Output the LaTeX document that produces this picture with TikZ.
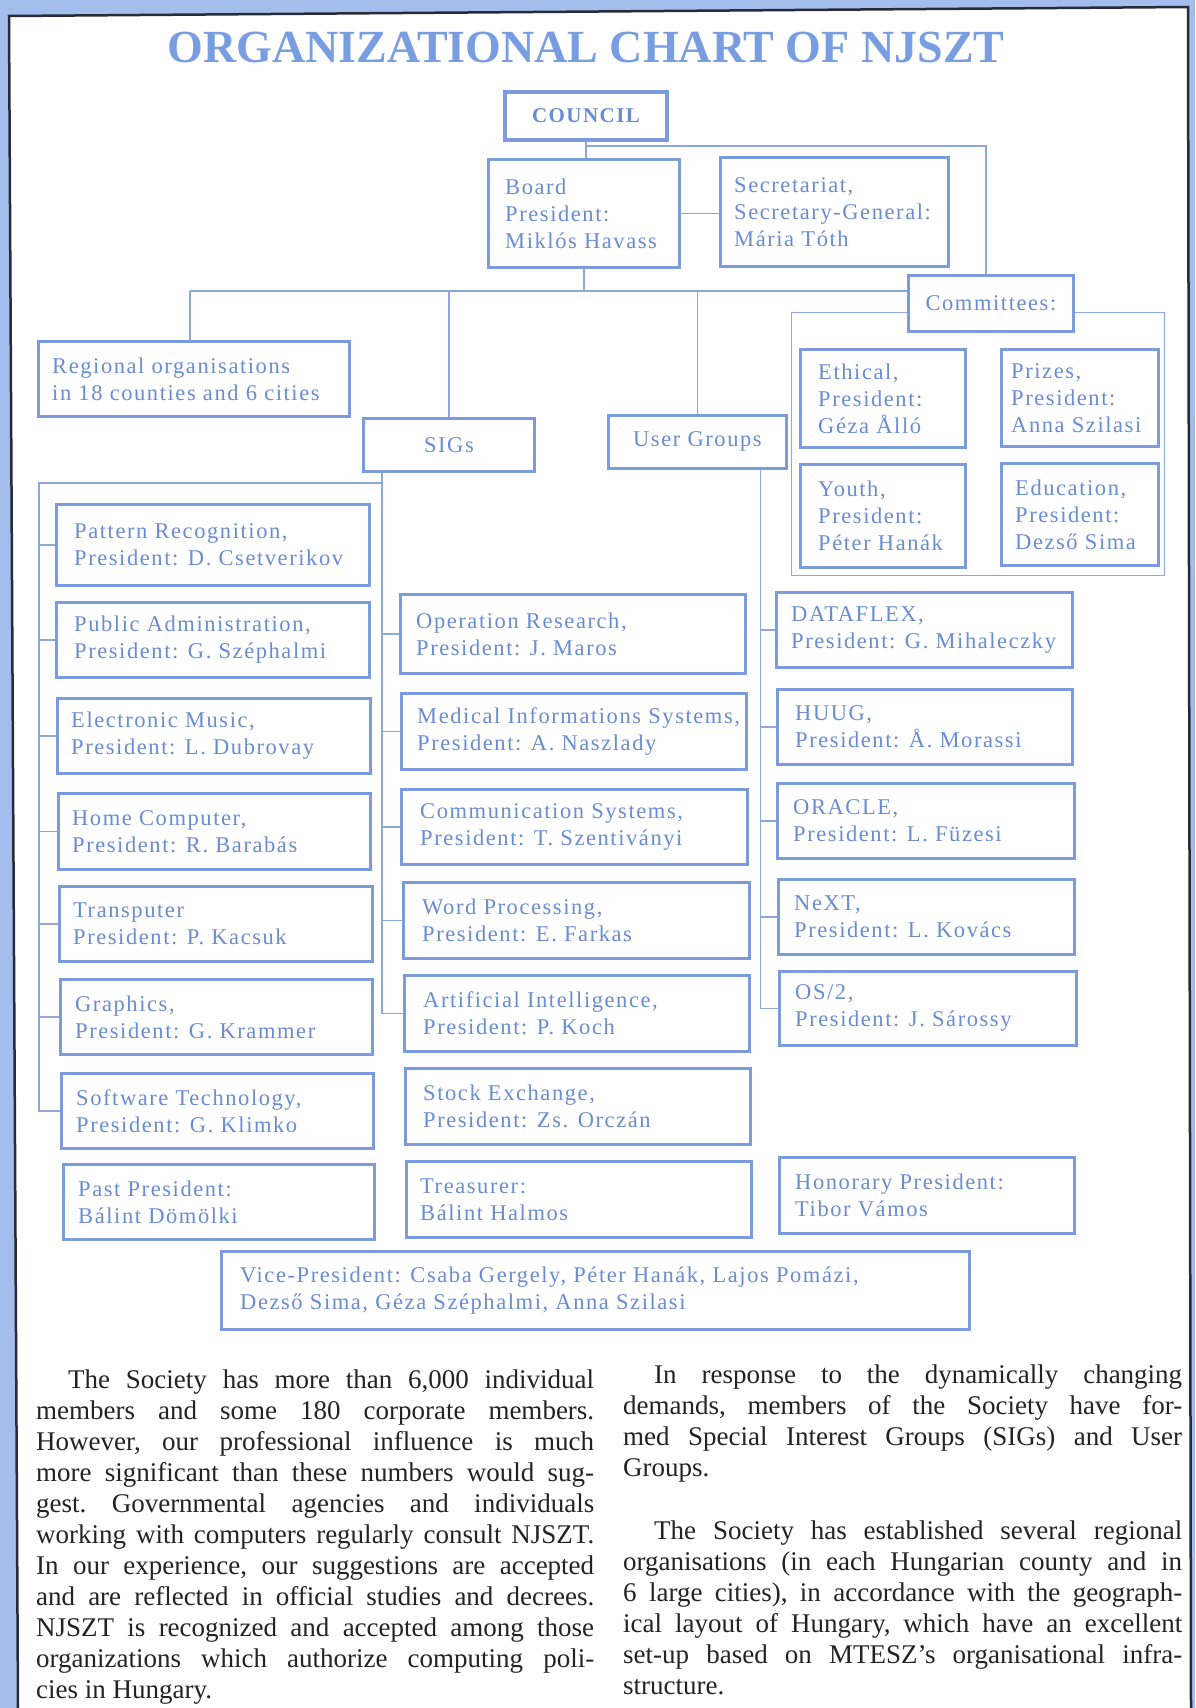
\documentclass[tikz,border=0pt]{standalone}
\usepackage{fontspec}
\setmainfont{Liberation Serif}
\newfontfamily\boxfont[LetterSpace=7]{Liberation Serif}
\definecolor{pageblue}{RGB}{163,190,236}
\definecolor{pageedge}{RGB}{40,42,55}
\definecolor{boxblue}{RGB}{122,156,222}
\definecolor{textblue}{RGB}{105,140,210}
\definecolor{lineblue}{RGB}{140,168,222}
\definecolor{titleblue}{RGB}{120,158,225}
\definecolor{paratext}{RGB}{35,35,38}
\tikzset{
  cbox/.style={draw=boxblue, line width=2.8pt, fill=white, inner sep=0pt},
  ctext/.style={text=textblue, font=\boxfont\fontsize{22.5}{27}\selectfont, align=left, inner sep=0pt},
  cc/.style={cbox, text=textblue, font=\boxfont\fontsize{22.5}{27}\selectfont},
  conn/.style={draw=lineblue, line width=1.3pt},
  cframe/.style={draw=lineblue, line width=1.3pt, inner sep=0pt},
  para/.style={text=paratext, font=\fontsize{27}{31}\selectfont\frenchspacing, align=left, inner sep=0pt}
}
% name, x1, y1, x2, y2, left padding, text
\newcommand\orgbox[7]{%
  \pgfmathsetmacro\orgW{#4-#2}\pgfmathsetmacro\orgH{#5-#3}%
  \node[cbox, minimum width=\orgW pt, minimum height=\orgH pt, anchor=north west] (#1) at (#2,#3) {};
  \node[ctext, anchor=west] (#1-t) at ([xshift=#6pt]#1.west) {#7};
}
\begin{document}
\begin{tikzpicture}[x=1pt,y=-1pt]
\useasboundingbox (0,0) rectangle (1195,1708);
\fill[pageblue] (0,0) rectangle (1195,1708);
\fill[white] (9,16) -- (1188,7) -- (1191,1708) -- (18,1708) -- cycle;
\draw[pageedge, line width=2.5pt] (18,1708) -- (9,16) -- (1188,7) -- (1191,1708);

\node[font=\bfseries\fontsize{46}{50}\selectfont, text=titleblue, anchor=base, inner sep=0pt] (title) at (586,62) {ORGANIZATIONAL CHART OF NJSZT};

% committees frame
\node[cframe, minimum width=373pt, minimum height=263pt, anchor=north west] (comframe) at (791,312) {};

% top
\node[cbox, line width=4pt, minimum width=162pt, minimum height=48pt, anchor=north west, text=textblue, font=\boxfont\bfseries\fontsize{21}{25}\selectfont] (council) at (503,90) {COUNCIL};
\orgbox{board}{487}{158}{678}{266}{18}{Board\\President:\\Miklós Havass}
\orgbox{secr}{719}{156}{947}{265}{15}{Secretariat,\\Secretary-General:\\Mária Tóth}
\node[cc, minimum width=165pt, minimum height=56pt, anchor=north west] (committees) at (907,274) {Committees:};
\orgbox{regional}{37}{340}{348}{415}{15}{Regional organisations\\in 18 counties and 6 cities}
\node[cc, minimum width=171pt, minimum height=53pt, anchor=north west] (sigs) at (362,417) {SIGs};
\node[cc, minimum width=178pt, minimum height=53pt, anchor=north west] (ug) at (607,414) {User Groups};

\orgbox{ethical}{799}{348}{964}{446}{19}{Ethical,\\President:\\Géza Ålló}
\orgbox{prizes}{1000}{348}{1157}{445}{11}{Prizes,\\President:\\Anna Szilasi}
\orgbox{youth}{799}{463}{964}{566}{19}{Youth,\\President:\\Péter Hanák}
\orgbox{educ}{1000}{462}{1157}{564}{15}{Education,\\President:\\Dezső Sima}

% left column
\orgbox{pat}{55}{503}{368}{584}{19}{Pattern Recognition,\\President: D. Csetverikov}
\orgbox{pub}{55}{601}{368}{676}{19}{Public Administration,\\President: G. Széphalmi}
\orgbox{elec}{56}{697}{369}{772}{15}{Electronic Music,\\President: L. Dubrovay}
\orgbox{home}{57}{792}{369}{868}{15}{Home Computer,\\President: R. Barabás}
\orgbox{trans}{58}{885}{371}{960}{15}{Transputer\\President: P. Kacsuk}
\orgbox{graph}{59}{978}{371}{1053}{16}{Graphics,\\President: G. Krammer}
\orgbox{soft}{60}{1072}{372}{1147}{16}{Software Technology,\\President: G. Klimko}
\orgbox{past}{62}{1163}{373}{1238}{16}{Past President:\\Bálint Dömölki}

% middle column
\orgbox{opr}{399}{593}{744}{672}{17}{Operation Research,\\President: J. Maros}
\orgbox{med}{400}{692}{745}{768}{17}{Medical Informations Systems,\\President: A. Naszlady}
\orgbox{comm}{400}{788}{746}{863}{20}{Communication Systems,\\President: T. Szentiványi}
\orgbox{word}{402}{881}{748}{957}{20}{Word Processing,\\President: E. Farkas}
\orgbox{ai}{403}{974}{748}{1050}{20}{Artificial Intelligence,\\President: P. Koch}
\orgbox{stock}{404}{1067}{749}{1143}{19}{Stock Exchange,\\President: Zs. Orczán}
\orgbox{treas}{405}{1160}{750}{1236}{15}{Treasurer:\\Bálint Halmos}

% right column
\orgbox{dataflex}{775}{591}{1071}{666}{16}{DATAFLEX,\\President: G. Mihaleczky}
\orgbox{huug}{776}{688}{1071}{763}{19}{HUUG,\\President: Å. Morassi}
\orgbox{oracle}{776}{782}{1073}{857}{17}{ORACLE,\\President: L. Füzesi}
\orgbox{next}{777}{878}{1073}{953}{17}{NeXT,\\President: L. Kovács}
\orgbox{os2}{778}{970}{1075}{1044}{17}{OS/2,\\President: J. Sárossy}
\orgbox{honor}{778}{1156}{1073}{1232}{17}{Honorary President:\\Tibor Vámos}

\orgbox{vp}{220}{1250}{968}{1328}{20}{Vice-President: Csaba Gergely, Péter Hanák, Lajos Pomázi,\\Dezső Sima, Géza Széphalmi, Anna Szilasi}

% connectors
\coordinate (cjy) at (0,146);
\coordinate (bus) at (0,291);
\coordinate (lsp) at (39,483);
\coordinate (ss) at ([xshift=20pt]sigs.south west);
\coordinate (us) at ([xshift=-27pt]ug.south east);

\draw[conn] (council.south) -- (council.south |- board.north);
\draw[conn] (council.south |- cjy) -| ([xshift=-5pt]committees.north);
\draw[conn] (board.east) -- (board.east -| secr.west);
\draw[conn] (board.south) -- (board.south |- bus);
\draw[conn] ([xshift=-4pt]regional.north |- bus) -- (committees.west |- bus);
\draw[conn] ([xshift=-4pt]regional.north |- bus) -- ([xshift=-4pt]regional.north);
\draw[conn] (sigs.north |- bus) -- (sigs.north);
\draw[conn] (ug.north |- bus) -- (ug.north);

% SIG tree
\draw[conn] (ss) -- (ss |- lsp) -- (lsp) -- (lsp |- soft.west) -- (soft.west);
\foreach \b in {pat,pub,elec,home,trans,graph} \draw[conn] (lsp |- \b.west) -- (\b.west);
\draw[conn] (ss) -- (ss |- ai.west) -- (ai.west);
\foreach \b in {opr,med,comm,word} \draw[conn] (ss |- \b.west) -- (\b.west);

% User group tree
\draw[conn] (us) -- (us |- os2.west) -- (os2.west);
\foreach \b in {dataflex,huug,oracle,next} \draw[conn] (us |- \b.west) -- (\b.west);

% paragraphs
\node[para, anchor=north west] (p1) at (36,1370) {%
\makebox[558pt][s]{\hspace*{32pt}The Society has more than 6,000 individual}\\
\makebox[558pt][s]{members and some 180 corporate members.}\\
\makebox[558pt][s]{However, our professional influence is much}\\
\makebox[558pt][s]{more significant than these numbers would sug-}\\
\makebox[558pt][s]{gest. Governmental agencies and individuals}\\
\makebox[558pt][s]{working with computers regularly consult NJSZT.}\\
\makebox[558pt][s]{In our experience, our suggestions are accepted}\\
\makebox[558pt][s]{and are reflected in official studies and decrees.}\\
\makebox[558pt][s]{NJSZT is recognized and accepted among those}\\
\makebox[558pt][s]{organizations which authorize computing poli-}\\
\makebox[558pt][l]{cies in Hungary.}};

\node[para, anchor=north west] (p2) at (623,1365) {%
\makebox[559pt][s]{\hspace*{31pt}In response to the dynamically changing}\\
\makebox[559pt][s]{demands, members of the Society have for-}\\
\makebox[559pt][s]{med Special Interest Groups (SIGs) and User}\\
\makebox[559pt][l]{Groups.}};

\node[para, anchor=north west] (p3) at (623,1521) {%
\makebox[559pt][s]{\hspace*{31pt}The Society has established several regional}\\
\makebox[559pt][s]{organisations (in each Hungarian county and in}\\
\makebox[559pt][s]{6 large cities), in accordance with the geograph-}\\
\makebox[559pt][s]{ical layout of Hungary, which have an excellent}\\
\makebox[559pt][s]{set-up based on MTESZ's organisational infra-}\\
\makebox[559pt][l]{structure.}};
\end{tikzpicture}
\end{document}
